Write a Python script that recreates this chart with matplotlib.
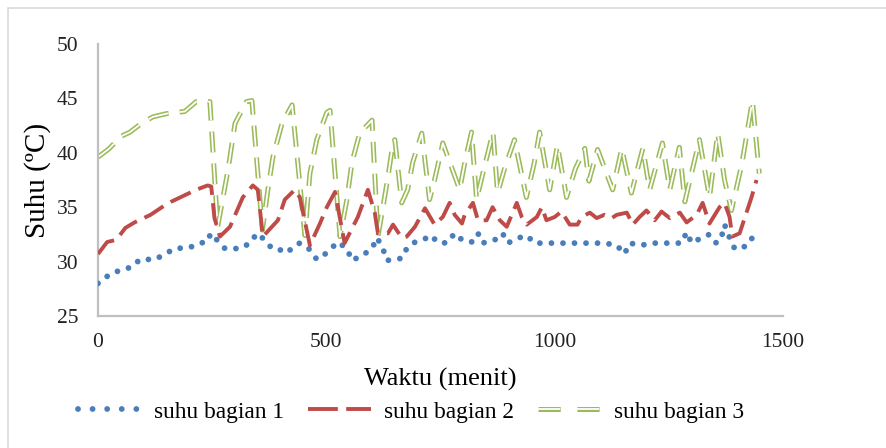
import matplotlib
matplotlib.use("Agg")
import matplotlib.pyplot as plt
from matplotlib.lines import Line2D
from matplotlib.legend_handler import HandlerTuple
from matplotlib.patches import Rectangle

# ---- data ----
time_1 = [0, 25, 48, 74, 92, 125, 147, 168, 201, 223, 239, 247, 278, 311, 333, 348, 365, 381, 392, 414,
          431, 442, 464, 479, 501, 525, 545, 556, 580, 600, 611, 624, 632, 665, 676, 689, 722, 731, 742,
          764, 781, 797, 818, 832, 842, 869, 886, 897, 923, 939, 956, 985, 1109, 1136, 1153, 1164, 1190,
          1212, 1278, 1289, 1300, 1322, 1339, 1354, 1365, 1372, 1383, 1394, 1409, 1427, 1438]
temp_1 = [28.0, 28.8, 29.2, 29.5, 30.2, 30.2, 30.7, 31.2, 31.3, 31.7, 31.8, 32.6, 31.2, 31.2, 31.7, 32.6,
          32.0, 31.2, 31.2, 30.8, 31.5, 31.7, 31.1, 30.2, 30.8, 31.8, 31.2, 30.1, 30.6, 31.2, 32.2, 31.2,
          30.1, 30.3, 31.2, 31.7, 32.2, 32.4, 31.8, 31.7, 32.6, 32.0, 31.8, 32.6, 31.7, 32.0, 32.6, 31.7,
          32.2, 32.4, 31.7, 31.7, 31.7, 31.5, 30.7, 31.7, 31.5, 31.7, 31.7, 32.7, 31.7, 32.2, 32.5, 31.7,
          32.2, 33.4, 32.2, 31.2, 31.2, 31.7, 32.7]

time_2 = [0, 20, 40, 60, 80, 115, 140, 160, 190, 215, 240, 248, 255, 267, 289, 317, 339, 350, 361, 394,
          409, 431, 442, 464, 486, 501, 519, 540, 569, 591, 606, 613, 635, 646, 665, 676, 694, 716, 737,
          755, 770, 781, 797, 803, 821, 832, 851, 864, 880, 895, 917, 928, 939, 961, 972, 982, 1000, 1015,
          1033, 1050, 1059, 1077, 1092, 1109, 1125, 1136, 1158, 1171, 1186, 1201, 1219, 1234, 1252, 1274,
          1289, 1311, 1324, 1339, 1361, 1372, 1383, 1389, 1405, 1420, 1431, 1442]
temp_2 = [30.7, 31.8, 32.0, 33.1, 33.6, 34.3, 35.0, 35.5, 36.1, 36.6, 37.0, 36.9, 34.0, 32.3, 33.2, 35.9,
          37.0, 36.6, 32.3, 33.8, 35.7, 36.6, 35.9, 31.5, 33.5, 35.0, 36.4, 31.7, 34.1, 36.6, 34.5, 32.6,
          32.6, 33.4, 32.2, 32.3, 33.2, 34.9, 33.4, 34.1, 35.4, 34.3, 33.5, 34.3, 35.4, 33.8, 33.8, 35.0,
          33.8, 33.2, 35.4, 34.1, 33.4, 34.1, 35.0, 33.8, 34.1, 34.6, 33.4, 33.4, 34.1, 34.5, 34.0, 34.3,
          34.0, 34.3, 34.5, 33.4, 34.1, 34.7, 33.8, 34.6, 34.0, 34.5, 33.6, 34.3, 35.4, 33.5, 35.0, 35.4,
          34.1, 32.3, 32.6, 34.5, 35.9, 37.5]

time_3 = [0, 25, 50, 70, 95, 120, 150, 190, 215, 245, 262, 285, 300, 325, 337, 360, 372, 383, 403, 425,
          453, 464, 479, 501, 508, 530, 545, 556, 573, 600, 613, 624, 635, 646, 650, 665, 678, 689, 709,
          726, 737, 752, 755, 792, 805, 818, 829, 845, 865, 875, 890, 912, 938, 955, 967, 989, 1006, 1026,
          1045, 1066, 1075, 1094, 1127, 1147, 1168, 1193, 1208, 1236, 1252, 1273, 1285, 1317, 1339, 1357,
          1372, 1387, 1410, 1433, 1448]
temp_3 = [39.6, 40.4, 41.5, 41.9, 42.7, 43.3, 43.6, 43.8, 44.7, 44.7, 33.2, 38.5, 42.7, 44.7, 44.8, 32.9,
          36.6, 39.6, 42.7, 44.4, 32.4, 38.1, 41.2, 43.7, 43.9, 32.3, 35.7, 39.1, 41.8, 43.0, 32.3, 35.0,
          37.8, 40.9, 41.2, 35.4, 36.6, 39.1, 41.8, 35.7, 37.5, 40.3, 40.9, 36.6, 39.5, 41.9, 35.7, 38.5,
          41.9, 36.3, 38.5, 41.2, 35.9, 39.0, 41.9, 36.6, 40.7, 35.9, 38.5, 40.4, 37.4, 40.3, 36.6, 40.4,
          36.3, 40.4, 36.6, 40.9, 36.6, 40.5, 35.5, 41.2, 35.9, 41.8, 37.5, 34.7, 39.0, 44.8, 38.1]

series_labels = ["suhu bagian 1", "suhu bagian 2", "suhu bagian 3"]
x_ticks = [0, 500, 1000, 1500]
y_ticks = [25, 30, 35, 40, 45, 50]
x_label = "Waktu (menit)"
y_label = "Suhu (ºC)"

# ---- style ----
plt.rcParams['font.family'] = ['Liberation Serif', 'DejaVu Serif']
plt.rcParams['lines.scale_dashes'] = False

BLUE = "#4A7EBB"
RED = "#BE4B48"
GREEN = "#9BBB59"

DOT = dict(color=BLUE, lw=4.2, linestyle=(0, (0.001, 8.3)), dash_capstyle='round')
DASH = dict(color=RED, lw=2.8, linestyle=(0, (16, 6)), dash_capstyle='butt')
DBL_OUT = dict(color=GREEN, lw=3.6, linestyle=(0, (15, 8)), dash_capstyle='butt')
DBL_IN = dict(color='white', lw=1.3, linestyle=(0, (15, 8)), dash_capstyle='butt')

fig = plt.figure(figsize=(8.87, 4.48), dpi=100)
ax = fig.add_axes([98 / 887, 1 - 316 / 448, (783 - 98) / 887, (316 - 44) / 448])

ax.plot(time_3, temp_3, zorder=2, **DBL_OUT)
ax.plot(time_3, temp_3, zorder=2.1, **DBL_IN)
ax.plot(time_1, temp_1, zorder=3, **DOT)
ax.plot(time_2, temp_2, zorder=4, **DASH)

ax.set_xlim(0, 1500)
ax.set_ylim(25, 50)
ax.set_xticks(x_ticks)
ax.set_yticks(y_ticks)
ax.tick_params(length=0, labelsize=15.5, colors='#222222')
ax.tick_params(axis='y', pad=14)
ax.tick_params(axis='x', pad=12)
for s in ['top', 'right']:
    ax.spines[s].set_visible(False)
for s in ['left', 'bottom']:
    ax.spines[s].set_color('#BFBFBF')
    ax.spines[s].set_linewidth(1.6)

ax.set_xlabel(x_label, fontsize=19, labelpad=12)
ax.set_ylabel(y_label, fontsize=21, labelpad=4)

# legend
h1 = Line2D([], [], **dict(DOT, linestyle=(0, (0.001, 10.5))))
h2 = Line2D([], [], **dict(DASH, linestyle=(0, (21.5, 6))))
h3a = Line2D([], [], **dict(DBL_OUT, linestyle=(0, (16, 12))))
h3b = Line2D([], [], **dict(DBL_IN, linestyle=(0, (16, 12))))
fig.legend([h1, h2, (h3a, h3b)], series_labels, loc='center', bbox_to_anchor=(411 / 887, 1 - 412 / 448),
           ncol=3, frameon=False, fontsize=16.8, handlelength=2.7, handletextpad=0.55, columnspacing=1.05,
           handler_map={tuple: HandlerTuple(ndivide=1)})

# outer chart border (partly cut off in the reference)
fig.patches.append(Rectangle((8 / 887, -0.05), 1.2, 1 - 8 / 448 + 0.05, transform=fig.transFigure,
                             fill=False, edgecolor='#D9D9D9', lw=1.2))

fig.savefig("out.png", dpi=100)
